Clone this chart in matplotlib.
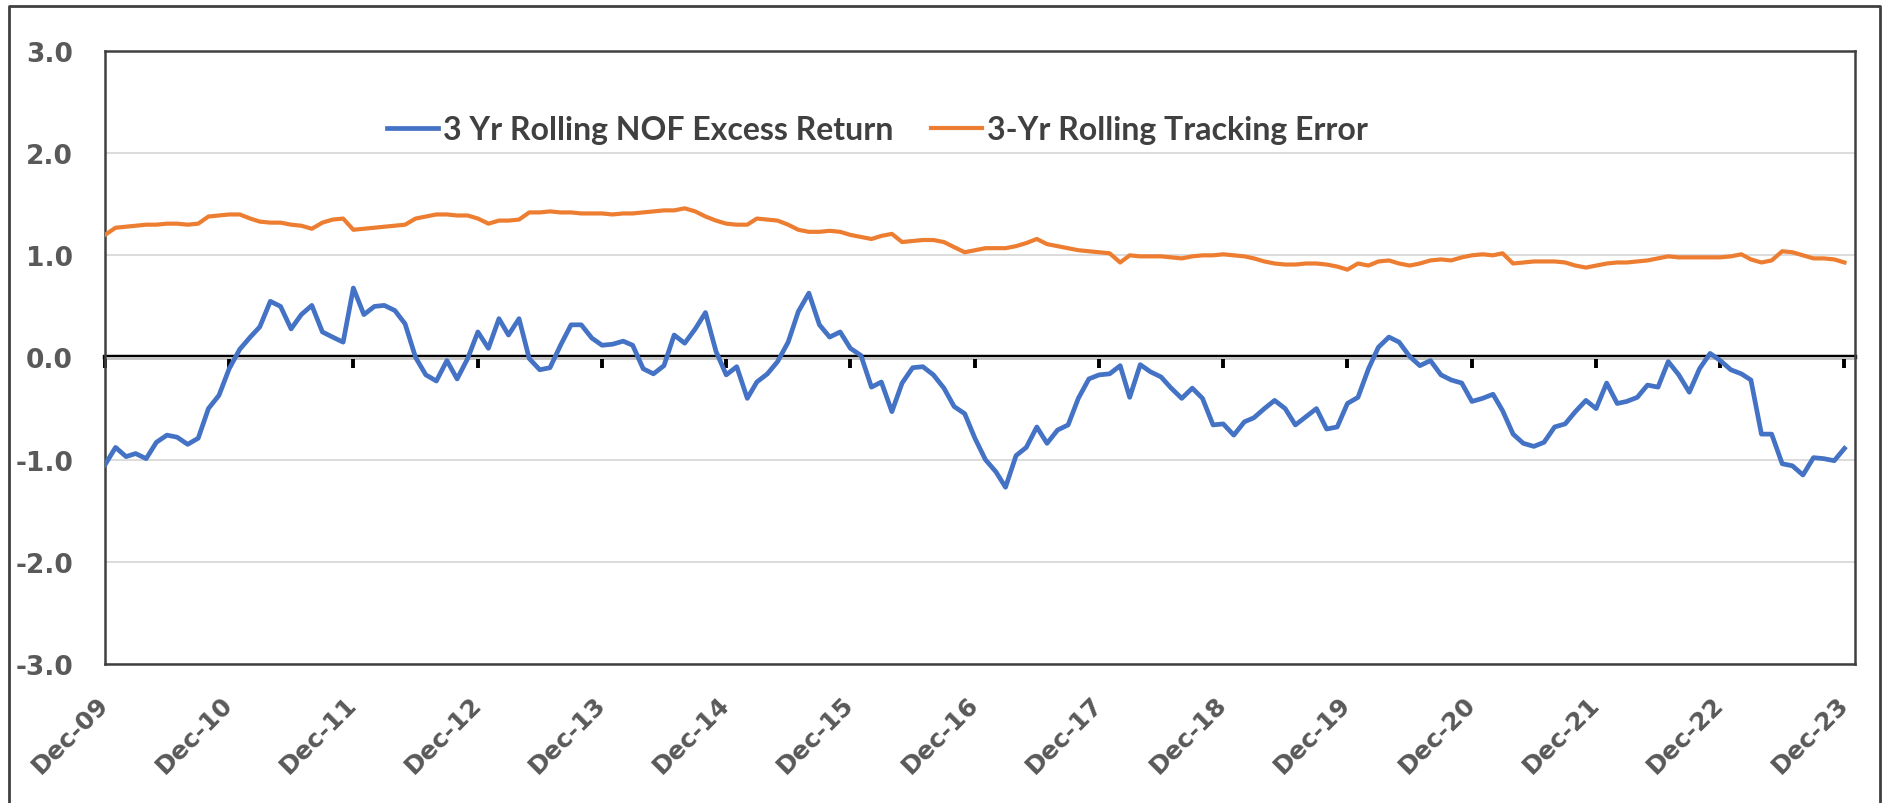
import pandas as pd
import matplotlib
matplotlib.use("Agg")
import matplotlib.pyplot as plt
from matplotlib.lines import Line2D

# Monthly observations, Dec-09 .. Dec-23 (one row per calendar year)
excess_return = [
    -1.05,
    -0.88, -0.97, -0.94, -0.99, -0.83, -0.76, -0.78, -0.85, -0.79, -0.50, -0.37, -0.11,
    0.08, 0.20, 0.30, 0.55, 0.50, 0.28, 0.42, 0.51, 0.25, 0.20, 0.15, 0.68,
    0.42, 0.50, 0.51, 0.46, 0.33, 0.00, -0.17, -0.23, -0.03, -0.21, -0.01, 0.25,
    0.09, 0.38, 0.22, 0.38, -0.01, -0.12, -0.10, 0.12, 0.32, 0.32, 0.19, 0.12,
    0.13, 0.16, 0.12, -0.11, -0.16, -0.08, 0.22, 0.14, 0.28, 0.44, 0.06, -0.17,
    -0.09, -0.40, -0.24, -0.16, -0.04, 0.15, 0.45, 0.63, 0.32, 0.20, 0.25, 0.09,
    0.02, -0.29, -0.24, -0.53, -0.25, -0.10, -0.09, -0.17, -0.30, -0.48, -0.55, -0.79,
    -1.00, -1.12, -1.27, -0.96, -0.88, -0.68, -0.84, -0.71, -0.66, -0.40, -0.21, -0.17,
    -0.16, -0.08, -0.39, -0.07, -0.14, -0.19, -0.30, -0.40, -0.30, -0.40, -0.66, -0.65,
    -0.76, -0.63, -0.59, -0.50, -0.42, -0.50, -0.66, -0.58, -0.50, -0.70, -0.68, -0.45,
    -0.39, -0.11, 0.10, 0.20, 0.15, 0.01, -0.08, -0.03, -0.17, -0.22, -0.25, -0.43,
    -0.40, -0.36, -0.52, -0.75, -0.84, -0.87, -0.83, -0.68, -0.65, -0.53, -0.42, -0.50,
    -0.25, -0.45, -0.43, -0.39, -0.27, -0.29, -0.04, -0.17, -0.34, -0.11, 0.04, -0.03,
    -0.12, -0.16, -0.22, -0.75, -0.75, -1.04, -1.06, -1.15, -0.98, -0.99, -1.01, -0.89,
]

tracking_error = [
    1.20,
    1.27, 1.28, 1.29, 1.30, 1.30, 1.31, 1.31, 1.30, 1.31, 1.38, 1.39, 1.40,
    1.40, 1.36, 1.33, 1.32, 1.32, 1.30, 1.29, 1.26, 1.32, 1.35, 1.36, 1.25,
    1.26, 1.27, 1.28, 1.29, 1.30, 1.36, 1.38, 1.40, 1.40, 1.39, 1.39, 1.36,
    1.31, 1.34, 1.34, 1.35, 1.42, 1.42, 1.43, 1.42, 1.42, 1.41, 1.41, 1.41,
    1.40, 1.41, 1.41, 1.42, 1.43, 1.44, 1.44, 1.46, 1.43, 1.38, 1.34, 1.31,
    1.30, 1.30, 1.36, 1.35, 1.34, 1.30, 1.25, 1.23, 1.23, 1.24, 1.23, 1.20,
    1.18, 1.16, 1.19, 1.21, 1.13, 1.14, 1.15, 1.15, 1.13, 1.08, 1.03, 1.05,
    1.07, 1.07, 1.07, 1.09, 1.12, 1.16, 1.11, 1.09, 1.07, 1.05, 1.04, 1.03,
    1.02, 0.93, 1.00, 0.99, 0.99, 0.99, 0.98, 0.97, 0.99, 1.00, 1.00, 1.01,
    1.00, 0.99, 0.97, 0.94, 0.92, 0.91, 0.91, 0.92, 0.92, 0.91, 0.89, 0.86,
    0.92, 0.90, 0.94, 0.95, 0.92, 0.90, 0.92, 0.95, 0.96, 0.95, 0.98, 1.00,
    1.01, 1.00, 1.02, 0.92, 0.93, 0.94, 0.94, 0.94, 0.93, 0.90, 0.88, 0.90,
    0.92, 0.93, 0.93, 0.94, 0.95, 0.97, 0.99, 0.98, 0.98, 0.98, 0.98, 0.98,
    0.99, 1.01, 0.96, 0.93, 0.95, 1.04, 1.03, 1.00, 0.97, 0.97, 0.96, 0.93,
]

series_labels = ["3 Yr Rolling NOF Excess Return", "3-Yr Rolling Tracking Error"]
y_ticks = [-3.0, -2.0, -1.0, 0.0, 1.0, 2.0, 3.0]

dates = pd.date_range("2009-12-01", periods=len(excess_return), freq="MS")
tick_dates = [d for d in dates if d.month == 12]

BLUE = "#4472C4"
ORANGE = "#ED7D31"
LABEL_GRAY = "#595959"

W, H = 1883, 804
fig = plt.figure(figsize=(W / 100, H / 100), dpi=100)
fig.patch.set_facecolor("white")

# Zone du graphique (coordonnees pixels de la reference)
ax = fig.add_axes([105 / W, 1 - 665 / H, (1855 - 105) / W, (665 - 52) / H])

line_te, = ax.plot(dates, tracking_error, color=ORANGE, lw=3.0, zorder=3)
line_er, = ax.plot(dates, excess_return, color=BLUE, lw=3.4, zorder=4)

ax.set_ylim(-3, 3)
ax.set_xlim(dates[0], dates[-1] + pd.DateOffset(months=1))
ax.set_yticks(y_ticks)
ax.set_yticklabels([f"{v:.1f}" for v in y_ticks])
ax.grid(axis="y", color="#D9D9D9", lw=1.3, zorder=0)
ax.set_axisbelow(True)

ax.set_xticks(tick_dates)
ax.set_xticklabels([d.strftime("%b-%y") for d in tick_dates])
ax.tick_params(axis="x", length=0, pad=26, labelsize=18, labelcolor=LABEL_GRAY)
ax.tick_params(axis="y", length=0, pad=23, labelsize=19, labelcolor=LABEL_GRAY)
for lab in ax.get_xticklabels():
    lab.set_rotation(45)
    lab.set_ha("right")
    lab.set_va("center")
    lab.set_rotation_mode("anchor")
    lab.set_fontweight("bold")
for lab in ax.get_yticklabels():
    lab.set_fontweight("bold")

for sp in ax.spines.values():
    sp.set_color("#404040")
    sp.set_linewidth(1.8)

# Axe horizontal a zero avec graduations annuelles
zero_axis = ax.secondary_xaxis(0.5)
zero_axis.set_xticks(tick_dates)
zero_axis.tick_params(direction="in", length=8, width=2.8, color="black",
                      labeltop=False, labelbottom=False)
for name, sp in zero_axis.spines.items():
    sp.set_visible(name == "top")
zero_axis.spines["top"].set_linewidth(3.2)
zero_axis.spines["top"].set_color("black")

leg = ax.legend([line_er, line_te], series_labels,
                loc="center left", bbox_to_anchor=(0.161, 0.872), ncol=2, frameon=False,
                borderpad=0, borderaxespad=0,
                handlelength=1.6, handletextpad=0.15, columnspacing=1.2,
                prop={"family": "Lato", "weight": "bold", "size": 23})
for txt in leg.get_texts():
    txt.set_color("#404040")

# Cadre exterieur de l'image
fig.add_artist(Line2D([9 / W, 9 / W, 1880 / W, 1880 / W], [-0.01, 1 - 7 / H, 1 - 7 / H, -0.01],
                      transform=fig.transFigure, color="#404040", lw=2))

fig.savefig("out.png", dpi=100, facecolor="white")
